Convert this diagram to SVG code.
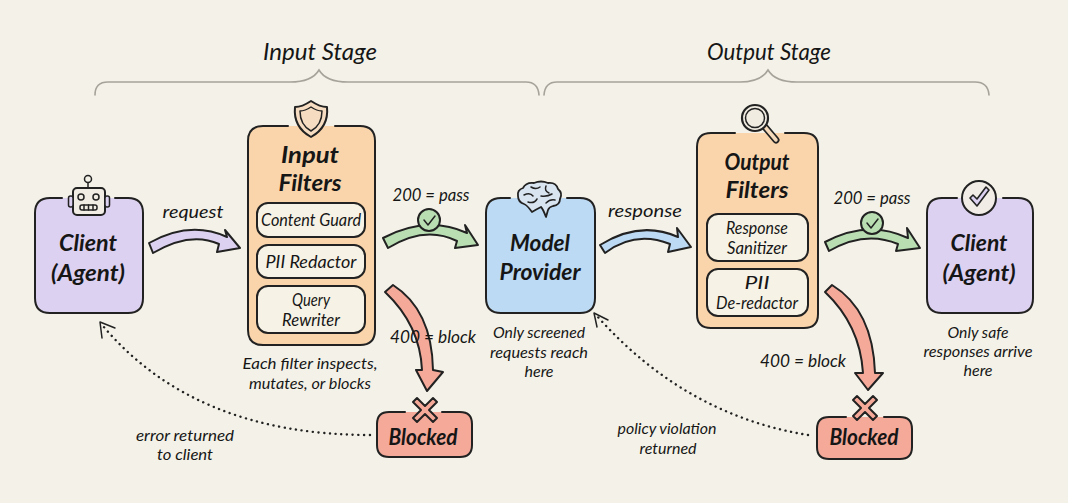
<svg xmlns="http://www.w3.org/2000/svg" width="1068" height="503" viewBox="0 0 1068 503">
<style>
text{font-family:"Lato","Open Sans","Liberation Sans",sans-serif;font-style:italic;fill:#161616;text-anchor:middle}
.t1{font-size:23px;font-weight:700}
.t2{font-size:24px;font-weight:400}
.t3{font-size:18px}
.t4{font-size:16px}
.ln{fill:none;stroke:#222;stroke-width:2;stroke-linecap:round;stroke-linejoin:round}
.thin{fill:none;stroke:#222;stroke-width:1.5;stroke-linecap:round;stroke-linejoin:round}
.brace{fill:none;stroke:#a5a39a;stroke-width:1.6;stroke-linecap:round}
.arrow{stroke:#222;stroke-width:2;stroke-linejoin:round}
.dot{fill:none;stroke:#222;stroke-width:2.400;stroke-linecap:round;stroke-dasharray:.1 5.600}
.sub{fill:#f6f3e6;stroke:#222;stroke-width:2}
.purple{fill:#ddd1f1}.orange{fill:#fad5ab}.blue{fill:#bcdaf3}.red{fill:#f5a999}.green{fill:#b9deb2}
</style>
<rect width="1068" height="503" fill="#f4f2e8"/>
<g id="stage-braces">
<path class="brace" d="M95 95Q95 82 108 82L290 82Q312 82 319 70Q326 82 348 82L526 82Q538 82 539 95"/>
<path class="brace" d="M544 95Q545 82 557 82L740 82Q761 82 768 70Q775 82 797 82L975 82Q988 82 989 95"/>
<text class="t2" x="320" y="60" textLength="114" lengthAdjust="spacingAndGlyphs">Input Stage</text>
<text class="t2" x="769" y="60" textLength="124" lengthAdjust="spacingAndGlyphs">Output Stage</text>
</g>
<g id="client-1">
<rect class="purple" x="35" y="198" width="108" height="115" rx="15"/>
<path class="ln" d="M62 198L50 198Q35 198 35 213L35 298Q35 313 50 313L128 313Q143 313 143 298L143 213Q143 198 128 198L115 198"/>
<g id="robot-icon">
<rect x="73" y="188" width="32" height="27" rx="4" fill="#f1ece4" stroke="#222" stroke-width="2"/>
<rect x="68.500" y="196" width="4.500" height="11" rx="2" fill="#ddd1f1" stroke="#222" stroke-width="1.500"/>
<rect x="105" y="196" width="4.500" height="11" rx="2" fill="#ddd1f1" stroke="#222" stroke-width="1.500"/>
<path class="thin" d="M88 188V183"/><circle class="thin" cx="88" cy="179" r="3.500"/>
<circle class="thin" cx="81" cy="197" r="3"/><circle class="thin" cx="96" cy="197" r="3"/>
<rect class="thin" x="80" y="205" width="17" height="5" rx="2"/><path class="thin" d="M84 205v5M88.500 205v5M93 205v5"/>
</g>
<text class="t1" x="88" y="251" textLength="58" lengthAdjust="spacingAndGlyphs">Client</text>
<text class="t1" x="88" y="281" textLength="74" lengthAdjust="spacingAndGlyphs">(Agent)</text>
</g>
<g id="input-filters">
<rect class="orange" x="248" y="126" width="127" height="219" rx="15"/>
<path class="ln" d="M288 126L263 126Q248 126 248 141L248 330Q248 345 263 345L360 345Q375 345 375 330L375 141Q375 126 360 126L335 126"/>
<g id="shield-icon">
<path d="M311 101Q320 107 327 107Q329 127 311 137Q293 127 295 107Q302 107 311 101Z" fill="#f6ddc1" stroke="#222" stroke-width="2" stroke-linejoin="round"/>
<path class="thin" d="M311 107Q317 111 322 111Q322 125 311 131Q300 125 300 111Q305 111 311 107Z"/>
</g>
<text class="t1" x="310" y="163" textLength="58" lengthAdjust="spacingAndGlyphs">Input</text>
<text class="t1" x="310" y="191" textLength="63" lengthAdjust="spacingAndGlyphs">Filters</text>
<g id="content-guard"><rect class="sub" x="257" y="203" width="108" height="34" rx="11"/><text class="t3" x="311" y="226" textLength="100" lengthAdjust="spacingAndGlyphs">Content Guard</text></g>
<g id="pii-redactor"><rect class="sub" x="257" y="245" width="108" height="33" rx="11"/><text class="t3" x="311" y="268" textLength="91" lengthAdjust="spacingAndGlyphs">PII Redactor</text></g>
<g id="query-rewriter"><rect class="sub" x="257" y="286" width="108" height="47" rx="11"/><text class="t3" x="311" y="306" textLength="38" lengthAdjust="spacingAndGlyphs">Query</text><text class="t3" x="311" y="326" textLength="58" lengthAdjust="spacingAndGlyphs">Rewriter</text></g>
<text class="t4" x="310" y="369" textLength="135" lengthAdjust="spacingAndGlyphs">Each filter inspects,</text>
<text class="t4" x="310" y="389" textLength="122" lengthAdjust="spacingAndGlyphs">mutates, or blocks</text>
</g>
<g id="model-provider">
<rect class="blue" x="486" y="198" width="109" height="115" rx="15"/>
<path class="ln" d="M510 198L501 198Q486 198 486 213L486 298Q486 313 501 313L580 313Q595 313 595 298L595 213Q595 198 580 198L567 198"/>
<g id="brain-icon">
<path d="M532 212Q527 205 524 204Q518 202 518 196Q517 190 523 188Q526 182 534 183Q541 180 548 183Q556 182 558 189Q563 193 560 199Q560 205 553 206Q549 207 548 210L546 217Q543 209 541 207Q537 209 532 212Z" fill="#d8e4f0" stroke="#222" stroke-width="1.800" stroke-linejoin="round"/>
<path class="thin" d="M524 195Q530 192 533 196M531 187Q536 190 540 187M528 202Q534 204 537 199M546 186Q544 191 549 193M541 196Q547 197 552 194M546 203Q550 199 555 200"/>
</g>
<text class="t1" x="540" y="251" textLength="60" lengthAdjust="spacingAndGlyphs">Model</text>
<text class="t1" x="540" y="280" textLength="81" lengthAdjust="spacingAndGlyphs">Provider</text>
<text class="t4" x="539" y="338" textLength="92" lengthAdjust="spacingAndGlyphs">Only screened</text>
<text class="t4" x="539" y="358" textLength="98" lengthAdjust="spacingAndGlyphs">requests reach</text>
<text class="t4" x="539" y="377" textLength="29" lengthAdjust="spacingAndGlyphs">here</text>
</g>
<g id="output-filters">
<rect class="orange" x="697" y="133" width="121" height="195" rx="14"/>
<path class="ln" d="M735 133L711 133Q697 133 697 147L697 314Q697 328 711 328L804 328Q818 328 818 314L818 147Q818 133 804 133L785 133"/>
<g id="magnifier-icon">
<path d="M765 127L776 140" stroke="#222" stroke-width="7" stroke-linecap="round" fill="none"/>
<path d="M765 127L776 140" stroke="#f4d9ba" stroke-width="3.500" stroke-linecap="round" fill="none"/>
<circle cx="755" cy="118" r="13" fill="#f1ece2" stroke="#222" stroke-width="2.200"/>
<circle class="thin" cx="755" cy="118" r="9.500"/>
</g>
<text class="t1" x="757" y="170" textLength="65" lengthAdjust="spacingAndGlyphs">Output</text>
<text class="t1" x="757" y="198" textLength="63" lengthAdjust="spacingAndGlyphs">Filters</text>
<g id="response-sanitizer"><rect class="sub" x="707" y="214" width="101" height="47" rx="11"/><text class="t3" x="757" y="234" textLength="62" lengthAdjust="spacingAndGlyphs">Response</text><text class="t3" x="757" y="254" textLength="60" lengthAdjust="spacingAndGlyphs">Sanitizer</text></g>
<g id="pii-de-redactor"><rect class="sub" x="707" y="269" width="101" height="47" rx="11"/><text class="t3" x="757" y="289" textLength="25" lengthAdjust="spacingAndGlyphs">PII</text><text class="t3" x="757" y="309" textLength="82" lengthAdjust="spacingAndGlyphs">De-redactor</text></g>
</g>
<g id="client-2">
<rect class="purple" x="927" y="198" width="106" height="115" rx="15"/>
<path class="ln" d="M957 198L942 198Q927 198 927 213L927 298Q927 313 942 313L1018 313Q1033 313 1033 298L1033 213Q1033 198 1018 198L1003 198"/>
<g id="check-icon">
<circle cx="979" cy="198" r="17" fill="#f1ece6" stroke="#222" stroke-width="2"/>
<path d="M970 198L977 206L989 190L986 187L977 199L973 195Z" fill="#ddd1f1" stroke="#222" stroke-width="1.600" stroke-linejoin="round"/>
</g>
<text class="t1" x="979" y="251" textLength="57" lengthAdjust="spacingAndGlyphs">Client</text>
<text class="t1" x="979" y="281" textLength="73" lengthAdjust="spacingAndGlyphs">(Agent)</text>
<text class="t4" x="978" y="338" textLength="61" lengthAdjust="spacingAndGlyphs">Only safe</text>
<text class="t4" x="978" y="357" textLength="109" lengthAdjust="spacingAndGlyphs">responses arrive</text>
<text class="t4" x="978" y="376" textLength="29" lengthAdjust="spacingAndGlyphs">here</text>
</g>
<g id="blocked-1">
<rect class="red" x="377" y="412" width="95" height="45" rx="12"/>
<path class="ln" d="M405 412L389 412Q377 412 377 424L377 445Q377 457 389 457L460 457Q472 457 472 445L472 424Q472 412 460 412L442 412"/>
<path d="M425 406L433 398L437 402L429 410L437 418L433 422L425 414L417 422L413 418L421 410L413 402L417 398Z" class="red" stroke="#222" stroke-width="2" stroke-linejoin="round"/>
<text class="t1" x="423" y="445" textLength="69" lengthAdjust="spacingAndGlyphs">Blocked</text>
</g>
<g id="blocked-2">
<rect class="red" x="817" y="417" width="95" height="42" rx="12"/>
<path class="ln" d="M846 417L829 417Q817 417 817 429L817 447Q817 459 829 459L900 459Q912 459 912 447L912 429Q912 417 900 417L884 417"/>
<path d="M865 404L873 396L877 400L869 408L877 416L873 420L865 412L857 420L853 416L861 408L853 400L857 396Z" class="red" stroke="#222" stroke-width="2" stroke-linejoin="round"/>
<text class="t1" x="864" y="445" textLength="69" lengthAdjust="spacingAndGlyphs">Blocked</text>
</g>
<g id="connectors">
<path class="arrow purple" d="M149 243Q190 220 227 237L225 230L240 248L217 252L219 244Q190 231 153 253Z"/>
<text class="t3" x="193" y="218" textLength="61" lengthAdjust="spacingAndGlyphs">request</text>
<path class="arrow green" d="M383 238Q427 215 467 233L465 225L478 245L455 248L457 241Q425 225 388 248Z"/>
<text class="t3" x="431" y="201" textLength="77" lengthAdjust="spacingAndGlyphs">200 = pass</text>
<circle cx="429" cy="220" r="11" class="green" stroke="#222" stroke-width="2"/><path class="thin" d="M424 220L428 225L435 216"/>
<path class="arrow blue" d="M600 245Q640 220 678 237L677 228L691 247L668 252L670 244Q635 230 605 253Z"/>
<text class="t3" x="645" y="217" textLength="74" lengthAdjust="spacingAndGlyphs">response</text>
<path class="arrow green" d="M825 242Q868 219 908 238L907 228L920 248L896 251L898 244Q865 230 829 251Z"/>
<text class="t3" x="872" y="204" textLength="77" lengthAdjust="spacingAndGlyphs">200 = pass</text>
<circle cx="872" cy="223" r="11" class="green" stroke="#222" stroke-width="2"/><path class="thin" d="M867 223L871 228L878 219"/>
<path class="arrow red" d="M385 292L393 285Q432 310 433 370L443 372L427 391L416 370L422 370Q420 325 385 292Z"/>
<text class="t3" x="433" y="343" textLength="86" lengthAdjust="spacingAndGlyphs">400 = block</text>
<path class="arrow red" d="M825 292L832 285Q873 310 875 373L883 373L868 390L855 373L863 373Q860 325 825 292Z"/>
<text class="t3" x="803" y="367" textLength="86" lengthAdjust="spacingAndGlyphs">400 = block</text>
<path class="dot" d="M370 435Q195 435 103 326"/>
<path class="thin" d="M115 328L100 322L102 338"/>
<path class="dot" d="M808 435Q685 415 597 316"/>
<path class="thin" d="M608 320L594 313L597 327"/>
<text class="t4" x="185" y="441" textLength="98" lengthAdjust="spacingAndGlyphs">error returned</text>
<text class="t4" x="185" y="460" textLength="56" lengthAdjust="spacingAndGlyphs">to client</text>
<text class="t4" x="667" y="434" textLength="99" lengthAdjust="spacingAndGlyphs">policy violation</text>
<text class="t4" x="668" y="454" textLength="57" lengthAdjust="spacingAndGlyphs">returned</text>
</g>
</svg>
